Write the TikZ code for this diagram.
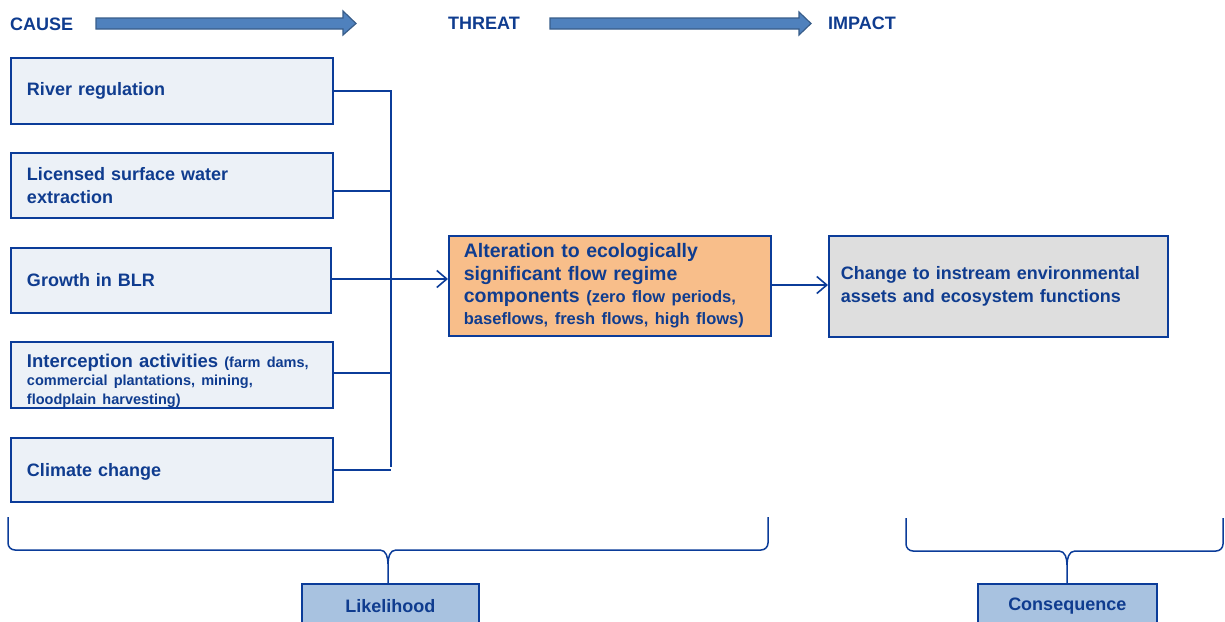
\documentclass[tikz,border=0pt]{standalone}
\usepackage{fontspec}
\setmainfont{Liberation Sans}
\usetikzlibrary{arrows.meta}

\definecolor{ink}{HTML}{0F3C8F}
\definecolor{edge}{HTML}{0B3C99}
\definecolor{causefill}{HTML}{ECF1F7}
\definecolor{threatfill}{HTML}{F8BE8A}
\definecolor{impactfill}{HTML}{DEDEDE}
\definecolor{labelfill}{HTML}{A8C2E0}
\definecolor{bandfill}{HTML}{4F81BD}
\definecolor{bandedge}{HTML}{385D8A}

\newcommand{\bigtxt}{\fontsize{18}{23}\selectfont\bfseries}
\newcommand{\smalltxt}{\fontsize{14.5}{18.5}\selectfont\bfseries}
\newcommand{\midtxt}{\fontsize{16.5}{22}\selectfont\bfseries}

\tikzset{
  heading/.style={anchor=west, inner sep=0pt, text=ink, font=\bigtxt},
  causebox/.style={draw=edge, line width=2pt, fill=causefill, anchor=north west,
    inner xsep=16pt, inner ysep=0pt, text=ink, align=left, font=\bigtxt},
  threatbox/.style={draw=edge, line width=1.8pt, fill=threatfill, anchor=north west,
    inner xsep=15pt, inner ysep=0pt, text=ink, align=left, font=\bigtxt},
  impactbox/.style={draw=edge, line width=1.8pt, fill=impactfill, anchor=north west,
    inner xsep=12pt, inner ysep=0pt, text=ink, align=left, font=\bigtxt},
  labelbox/.style={draw=edge, line width=1.5pt, fill=labelfill, anchor=north west,
    inner sep=0pt, text=ink, font=\fontsize{18}{21}\selectfont\bfseries},
  wire/.style={draw=edge, line width=1.8pt},
  flow/.style={wire, -{Straight Barb[length=10pt,width=17pt,line width=1.6pt]}},
  brace/.style={draw=edge, line width=1.5pt, line join=round},
  band/.style={fill=bandfill, draw=bandedge, line width=1.2pt, line join=miter}
}

\begin{document}
\begin{tikzpicture}[x=1pt, y=-1pt]
\useasboundingbox (0,0) rectangle (1225,621);
\clip (0,0) rectangle (1225,621);

% stage headings
\node[heading] (cause) at (10,24) {CAUSE};
\node[heading] (threat) at (448,23) {THREAT};
\node[heading] (impact) at (828,23) {IMPACT};

% block arrows between the headings
\draw[band] (96,18) -- (343,18) -- (343,11) -- (356,23.5) -- (343,35) -- (343,29) -- (96,29) -- cycle;
\draw[band] (550,18) -- (799,18) -- (799,12) -- (811,23.5) -- (799,35) -- (799,29) -- (550,29) -- cycle;

% causes
\node[causebox, minimum width=322pt, minimum height=66pt, text width=290pt] (river) at (10,57)
  {River regulation};
\node[causebox, minimum width=322pt, minimum height=65pt, text width=290pt] (licensed) at (10,152)
  {Licensed surface water\\extraction};
\node[causebox, minimum width=320pt, minimum height=65pt, text width=288pt] (growth) at (10,247)
  {Growth in BLR};
\node[causebox, minimum width=322pt, minimum height=66pt, text width=290pt,
  font=\fontsize{18.5}{18.5}\selectfont\bfseries] (intercept) at (10,341)
  {\rule{0pt}{25pt}Interception activities {\smalltxt (farm dams,}\\
   {\smalltxt commercial plantations, mining,}\\
   {\smalltxt floodplain harvesting)}};
\node[causebox, minimum width=322pt, minimum height=64pt, text width=290pt] (climate) at (10,437)
  {\rule{0pt}{17pt}Climate change};

% threat and impact
\node[threatbox, minimum width=322pt, minimum height=100pt, text width=292pt,
  font=\fontsize{19.5}{22.3}\selectfont\bfseries] (alter) at (448,235)
  {Alteration to ecologically\\
   significant flow regime\\
   components {\midtxt (zero flow periods,}\\
   {\midtxt baseflows, fresh flows, high flows)}};
\node[impactbox, minimum width=339pt, minimum height=101pt, text width=315pt] (change) at (828,235)
  {Change to instream environmental\\assets and ecosystem functions};

% collecting bus from the causes
\coordinate (busTop) at (391,90);
\coordinate (busLic) at (391,191);
\coordinate (busInt) at (391,373);
\coordinate (busBot) at (391,467);
\draw[wire] (busTop) -- (busBot);
\draw[wire] (river.east) -- (river.east -| busTop);
\draw[wire] (licensed.east |- busLic) -- (busLic);
\draw[wire] (intercept.east |- busInt) -- (busInt);
\draw[wire] (climate.east) -- (climate.east -| busTop);
\draw[flow] (growth.east |- 0,279) -- (alter.west |- 0,279);
\draw[flow] (alter.east |- 0,285) -- (change.west |- 0,285);

% assessment labels
\node[labelbox, minimum width=177pt, minimum height=44pt] (likelihood) at (301,583) {Likelihood};
\node[labelbox, minimum width=179pt, minimum height=44pt] (consequence) at (977,583) {Consequence};

% braces grouping the stages
\draw[brace] (8,517) -- (8,543) to[out=-90,in=180] (15,550) -- (380,550)
  to[out=0,in=90] (388,564) -- (likelihood.north -| 388,0);
\draw[brace] (768,517) -- (768,543) to[out=-90,in=0] (761,550) -- (396,550)
  to[out=180,in=90] (388,564);
\draw[brace] (906,518) -- (906,544) to[out=-90,in=180] (913,551) -- (1059,551)
  to[out=0,in=90] (1067,565) -- (consequence.north -| 1067,0);
\draw[brace] (1223,518) -- (1223,544) to[out=-90,in=0] (1216,551) -- (1075,551)
  to[out=180,in=90] (1067,565);
\end{tikzpicture}
\end{document}
